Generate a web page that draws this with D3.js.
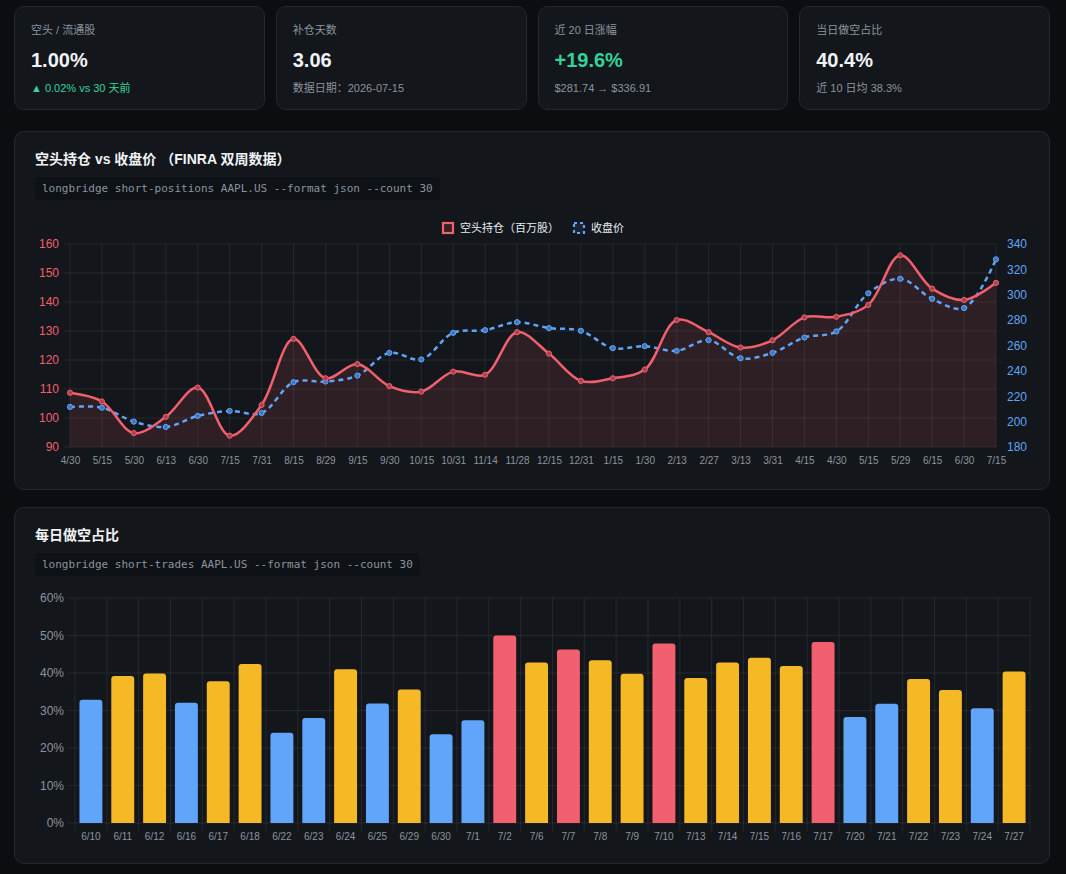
<!DOCTYPE html>
<html lang="zh-CN">
<head>
<meta charset="utf-8">
<script src="https://cdn.jsdelivr.net/npm/d3@7"></script>
<style>
  html, body { margin: 0; background: #0b0d11; }
  body {
    width: 1066px; height: 874px; overflow: hidden;
    padding: 6px 16px 0 14px; box-sizing: border-box;
    font-family: "Liberation Sans", "Noto Sans CJK SC", sans-serif;
    color: #e6edf3;
  }
  .stats { display: grid; grid-template-columns: repeat(4, 1fr); gap: 11px; }
  .stat {
    height: 104px; box-sizing: border-box; padding: 16px 16px 0 16px;
    background: #13161b; border: 1px solid #23272e; border-radius: 10px;
  }
  .stat .lbl { font-size: 11px; line-height: 15px; color: #8b949e; }
  .stat .val { font-size: 20px; line-height: 24px; font-weight: bold; margin-top: 10px; color: #f0f3f6; }
  .stat .sub { font-size: 11px; line-height: 15px; margin-top: 9px; color: #8b949e; }
  .green { color: #34d399 !important; }
  .card {
    position: relative; box-sizing: border-box;
    background: #13161b; border: 1px solid #23272e; border-radius: 10px;
  }
  #pos-card { margin-top: 21px; height: 359px; }
  #ratio-card { margin-top: 17px; height: 357px; }
  .card .title {
    position: absolute; left: 20px; top: 18px;
    font-size: 14px; line-height: 18px; font-weight: bold; color: #f0f3f6;
  }
  .card .code {
    position: absolute; left: 20px; top: 45px;
    padding: 4px 7px; font-size: 11px; line-height: 15px;
    font-family: "DejaVu Sans Mono", monospace; color: #8b949e;
    background: #0e1116; border-radius: 4px;
  }
  .card svg { position: absolute; left: 0; top: 0; }
</style>
</head>
<body>
<div class="stats">
  <div class="stat"><div class="lbl">空头 / 流通股</div><div class="val">1.00%</div><div class="sub green">▲ 0.02% vs 30 天前</div></div>
  <div class="stat"><div class="lbl">补仓天数</div><div class="val">3.06</div><div class="sub">数据日期：2026-07-15</div></div>
  <div class="stat"><div class="lbl">近 20 日涨幅</div><div class="val green">+19.6%</div><div class="sub">$281.74 → $336.91</div></div>
  <div class="stat"><div class="lbl">当日做空占比</div><div class="val">40.4%</div><div class="sub">近 10 日均 38.3%</div></div>
</div>

<div class="card" id="pos-card">
  <svg id="pos-svg"></svg>
  <div class="title">空头持仓 vs 收盘价 （FINRA 双周数据）</div>
  <div class="code">longbridge short-positions AAPL.US --format json --count 30</div>
</div>

<div class="card" id="ratio-card">
  <svg id="ratio-svg"></svg>
  <div class="title">每日做空占比</div>
  <div class="code">longbridge short-trades AAPL.US --format json --count 30</div>
</div>

<script>
// short positions (FINRA, bi-weekly)
const posDates = ['4/30', '5/15', '5/30', '6/13', '6/30', '7/15', '7/31', '8/15', '8/29', '9/15',
  '9/30', '10/15', '10/31', '11/14', '11/28', '12/15', '12/31', '1/15', '1/30', '2/13',
  '2/27', '3/13', '3/31', '4/15', '4/30', '5/15', '5/29', '6/15', '6/30', '7/15']
const shortPos = [108.7, 105.7, 94.8, 100.4, 110.5, 93.9, 104.5, 127.3, 113.7, 118.6,
  111.0, 109.1, 116.0, 114.9, 129.6, 122.2, 112.8, 113.7, 116.7, 133.8,
  129.6, 124.3, 126.8, 134.7, 134.9, 139.0, 156.1, 144.6, 140.7, 146.6]
const closePrice = [211.6, 211.0, 200.0, 195.8, 204.5, 208.4, 206.8, 231.1, 231.6, 236.3,
  254.2, 249.0, 270.0, 272.1, 278.4, 273.7, 271.6, 257.9, 259.5, 255.8,
  264.2, 250.0, 254.2, 266.3, 271.1, 301.1, 312.6, 296.8, 289.5, 327.9]
const posTicks = [90, 100, 110, 120, 130, 140, 150, 160]
const priceTicks = [180, 200, 220, 240, 260, 280, 300, 320, 340]

// daily short ratio
const tradeDates = ['6/10', '6/11', '6/12', '6/16', '6/17', '6/18', '6/22', '6/23', '6/24', '6/25',
  '6/29', '6/30', '7/1', '7/2', '7/6', '7/7', '7/8', '7/9', '7/10', '7/13',
  '7/14', '7/15', '7/16', '7/17', '7/20', '7/21', '7/22', '7/23', '7/24', '7/27']
const shortRatio = [32.9, 39.2, 39.9, 32.1, 37.8, 42.4, 24.1, 28.0, 41.0, 31.9,
  35.6, 23.7, 27.4, 50.0, 42.8, 46.3, 43.4, 39.8, 47.9, 38.7,
  42.8, 44.1, 41.9, 48.3, 28.3, 31.8, 38.4, 35.5, 30.6, 40.4]
const pctTicks = [0, 10, 20, 30, 40, 50, 60]

const RED = '#f25f6e'
const BLUE = '#60a5fa'
const YELLOW = '#f5b926'
const GRID = 'rgba(255,255,255,0.075)'
const MUTED = '#8b949e'

// ---------- chart 1: positions vs price ----------
function drawPositions() {
  const W = 1034, H = 357
  const m = {left: 55, right: W - 981, top: 112, bottom: H - 315}
  const svg = d3.select('#pos-svg').attr('width', W).attr('height', H)

  const x = d3.scalePoint().domain(d3.range(posDates.length)).range([m.left, W - m.right])
  const yL = d3.scaleLinear().domain([90, 160]).range([H - m.bottom, m.top])
  const yR = d3.scaleLinear().domain([180, 340]).range([H - m.bottom, m.top])

  // grid
  const grid = svg.append('g')
  grid.selectAll('line.v').data(d3.range(posDates.length)).enter().append('line')
    .attr('x1', d => x(d)).attr('x2', d => x(d))
    .attr('y1', m.top).attr('y2', H - m.bottom)
    .attr('stroke', GRID)
  grid.selectAll('line.h').data(posTicks).enter().append('line')
    .attr('x1', m.left - 6).attr('x2', W - m.right)
    .attr('y1', d => yL(d)).attr('y2', d => yL(d))
    .attr('stroke', GRID)

  // axes
  const axL = svg.append('g').attr('transform', `translate(${m.left - 8},0)`)
    .call(d3.axisLeft(yL).tickValues(posTicks).tickSize(0).tickPadding(3))
  axL.select('.domain').remove()
  axL.selectAll('text').attr('fill', RED).style('font-size', '12px')

  const axR = svg.append('g').attr('transform', `translate(${W - m.right + 8},0)`)
    .call(d3.axisRight(yR).tickValues(priceTicks).tickSize(0).tickPadding(3))
  axR.select('.domain').remove()
  axR.selectAll('text').attr('fill', BLUE).style('font-size', '12px')

  const axB = svg.append('g').attr('transform', `translate(0,${H - m.bottom + 4})`)
    .call(d3.axisBottom(x).tickFormat(i => posDates[i]).tickSize(0).tickPadding(6))
  axB.select('.domain').remove()
  axB.selectAll('text').attr('fill', MUTED).style('font-size', '10px')

  svg.selectAll('.tick text').style('font-family', '"Liberation Sans", sans-serif')

  // area + lines
  const curve = d3.curveCatmullRom.alpha(0.5)
  const idx = d3.range(posDates.length)
  svg.append('path').datum(idx)
    .attr('d', d3.area().x(i => x(i)).y0(yL(90)).y1(i => yL(shortPos[i])).curve(curve))
    .attr('fill', 'rgba(242,95,110,0.12)')

  svg.append('path').datum(idx)
    .attr('d', d3.line().x(i => x(i)).y(i => yR(closePrice[i])).curve(curve))
    .attr('fill', 'none').attr('stroke', BLUE).attr('stroke-width', 2.5)
    .attr('stroke-dasharray', '5 4')

  svg.append('path').datum(idx)
    .attr('d', d3.line().x(i => x(i)).y(i => yL(shortPos[i])).curve(curve))
    .attr('fill', 'none').attr('stroke', RED).attr('stroke-width', 2.5)

  svg.append('g').selectAll('circle').data(idx).enter().append('circle')
    .attr('cx', i => x(i)).attr('cy', i => yR(closePrice[i])).attr('r', 2.6)
    .attr('fill', '#3f78c0').attr('stroke', BLUE).attr('stroke-width', 1)
  svg.append('g').selectAll('circle').data(idx).enter().append('circle')
    .attr('cx', i => x(i)).attr('cy', i => yL(shortPos[i])).attr('r', 2.6)
    .attr('fill', '#a8434e').attr('stroke', RED).attr('stroke-width', 1)

  // legend
  const legend = svg.append('g').attr('transform', 'translate(0,96)')
  const items = [
    {label: '空头持仓（百万股）', color: RED, dash: null, fill: 'rgba(242,95,110,0.15)'},
    {label: '收盘价', color: BLUE, dash: '3 3', fill: 'rgba(96,165,250,0.1)'}
  ]
  let cx = 0
  items.forEach(it => {
    const g = legend.append('g').attr('transform', `translate(${cx},0)`)
    g.append('rect').attr('x', 1).attr('y', -5).attr('width', 10).attr('height', 10)
      .attr('fill', it.fill).attr('stroke', it.color).attr('stroke-width', 2.2)
      .attr('stroke-dasharray', it.dash)
    const t = g.append('text').attr('x', 18).attr('y', 4).text(it.label)
      .attr('fill', '#e6edf3').style('font-size', '11px')
    cx += 18 + t.node().getComputedTextLength() + 14
  })
  const total = cx - 14
  legend.attr('transform', `translate(${(m.left + W - m.right) / 2 - total / 2},96)`)
}

// ---------- chart 2: daily short ratio ----------
function drawRatio() {
  const W = 1034, H = 355
  const m = {left: 60, right: W - 1015, top: 90, bottom: H - 315}
  const svg = d3.select('#ratio-svg').attr('width', W).attr('height', H)

  const x = d3.scaleBand().domain(tradeDates).range([m.left, W - m.right])
  const y = d3.scaleLinear().domain([0, 60]).range([H - m.bottom, m.top])

  const edges = tradeDates.map(d => x(d)).concat([W - m.right])
  const grid = svg.append('g')
  grid.selectAll('line.v').data(edges).enter().append('line')
    .attr('x1', d => d).attr('x2', d => d)
    .attr('y1', m.top).attr('y2', H - m.bottom + 8)
    .attr('stroke', GRID)
  grid.selectAll('line.h').data(pctTicks).enter().append('line')
    .attr('x1', m.left - 8).attr('x2', W - m.right)
    .attr('y1', d => y(d)).attr('y2', d => y(d))
    .attr('stroke', GRID)

  const axL = svg.append('g').attr('transform', `translate(${m.left - 10},0)`)
    .call(d3.axisLeft(y).tickValues(pctTicks).tickFormat(d => d + '%').tickSize(0).tickPadding(1))
  axL.select('.domain').remove()
  axL.selectAll('text').attr('fill', MUTED).style('font-size', '12px')

  const axB = svg.append('g').attr('transform', `translate(0,${H - m.bottom + 4})`)
    .call(d3.axisBottom(x).tickSize(0).tickPadding(6))
  axB.select('.domain').remove()
  axB.selectAll('text').attr('fill', MUTED).style('font-size', '10px')
  svg.selectAll('.tick text').style('font-family', '"Liberation Sans", sans-serif')

  const colorOf = v => v >= 45 ? RED : (v >= 35 ? YELLOW : BLUE)
  const bw = x.bandwidth() * 0.72
  const r = 3
  const barPath = (x0, y0, w, h) =>
    `M${x0},${y0 + h}V${y0 + r}Q${x0},${y0} ${x0 + r},${y0}H${x0 + w - r}Q${x0 + w},${y0} ${x0 + w},${y0 + r}V${y0 + h}Z`

  svg.append('g').selectAll('path').data(tradeDates).enter().append('path')
    .attr('d', (d, i) => {
      const x0 = x(d) + (x.bandwidth() - bw) / 2
      const y0 = y(shortRatio[i])
      return barPath(x0, y0, bw, y(0) - y0)
    })
    .attr('fill', (d, i) => colorOf(shortRatio[i]))
}

drawPositions()
drawRatio()
</script>
</body>
</html>
